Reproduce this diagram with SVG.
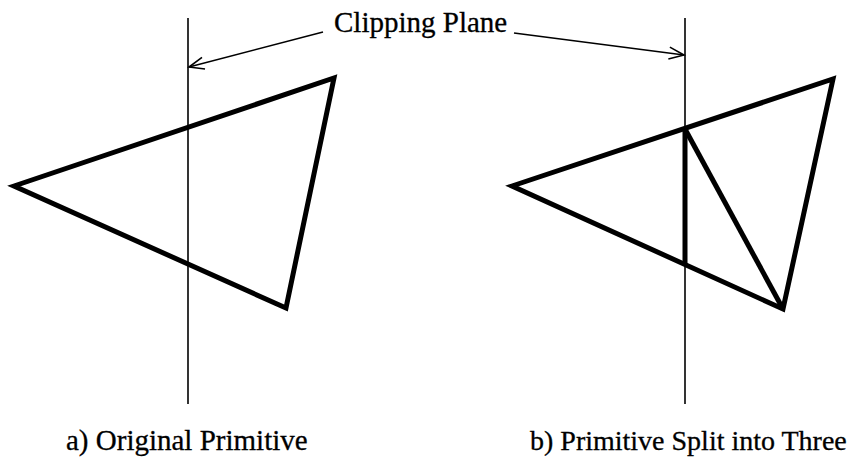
<svg xmlns="http://www.w3.org/2000/svg" width="854" height="460" viewBox="0 0 854 460">
<defs>
<marker id="arr" markerUnits="userSpaceOnUse" markerWidth="20" markerHeight="16" refX="16" refY="7" orient="auto" viewBox="0 0 20 14">
<path d="M1,1 L16,7 L1,13" fill="none" stroke="#000" stroke-width="1.6"/>
</marker>
</defs>
<style>
.plane{stroke:#000;stroke-width:1.6;fill:none}
.tri{stroke:#000;stroke-width:5;fill:none;stroke-linejoin:miter}
.lead{stroke:#000;stroke-width:1.6;fill:none;marker-end:url(#arr)}
.lbl{font-family:'Liberation Serif','Times New Roman',serif;font-size:29px;fill:#000;stroke:#000;stroke-width:0.3}
</style>
<rect width="854" height="460" fill="#fff"/>
<g id="planeA"><line class="plane" x1="188" y1="18" x2="188" y2="404"/></g>
<g id="planeB"><line class="plane" x1="685" y1="18" x2="685" y2="404"/></g>
<g id="triA"><polygon class="tri" points="14,186 334,78 286,308"/></g>
<g id="triB">
<polygon class="tri" points="512,186 833,79 783,309"/>
<line class="tri" x1="685" y1="129" x2="685" y2="265"/>
<line class="tri" x1="685" y1="129" x2="783" y2="309"/>
</g>
<g id="connectors">
<line class="lead" x1="323" y1="32" x2="189" y2="67"/>
<line class="lead" x1="514" y1="33" x2="684" y2="55"/>
</g>
<g id="labelTop"><text class="lbl" x="334" y="32">Clipping Plane</text></g>
<g id="labelA"><text class="lbl" x="66" y="450">a) Original Primitive</text></g>
<g id="labelB"><text class="lbl" x="530" y="450" style="font-size:28px">b) Primitive Split into Three</text></g>
</svg>
